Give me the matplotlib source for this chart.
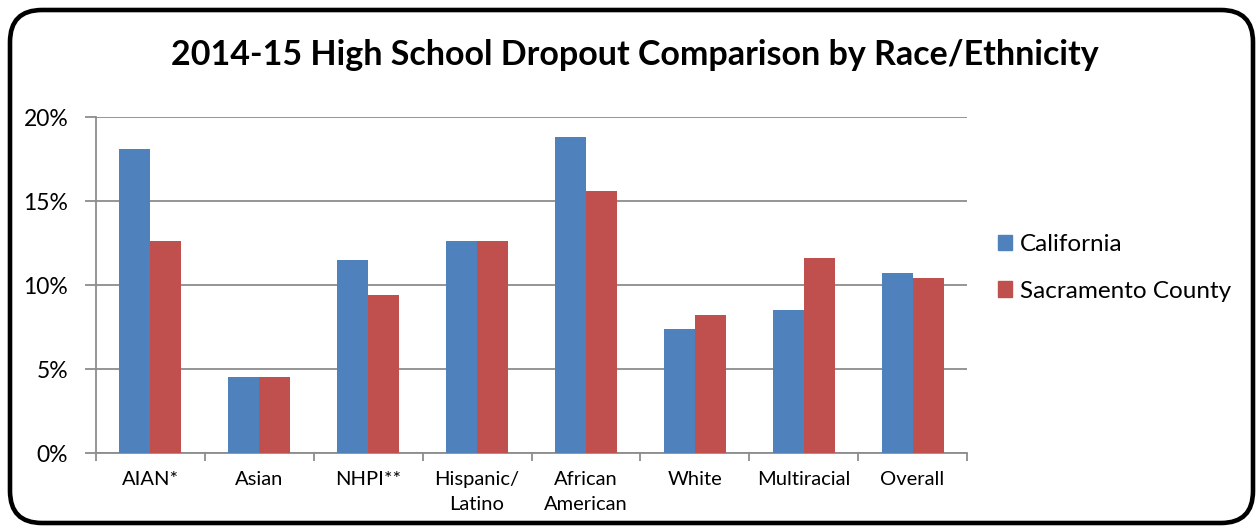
import numpy as np
import matplotlib.pyplot as plt
from matplotlib.patches import FancyBboxPatch, Patch
from matplotlib.ticker import PercentFormatter

# Data (percent)
categories = ['AIAN*', 'Asian', 'NHPI**', 'Hispanic/\nLatino', 'African\nAmerican',
              'White', 'Multiracial', 'Overall']
california = [18.1, 4.5, 11.5, 12.6, 18.8, 7.4, 8.5, 10.7]
sacramento = [12.6, 4.5, 9.4, 12.6, 15.6, 8.2, 11.6, 10.4]

blue = '#4f81bd'
red = '#c0504d'

plt.rcParams['font.family'] = ['Lato', 'DejaVu Sans']

fig = plt.figure(figsize=(12.6, 5.27), dpi=100)
W, H = 1260, 527

# Background axes in pixel units for the rounded chart border
bg = fig.add_axes([0, 0, 1, 1], zorder=-1)
bg.set_xlim(0, W)
bg.set_ylim(H, 0)
bg.axis('off')
bg.add_patch(FancyBboxPatch((10, 10), 1243, 513,
                            boxstyle='round,pad=0,rounding_size=32',
                            facecolor='white', edgecolor='black', linewidth=3.3))

ax = fig.add_axes([96 / W, (H - 453) / H, (967 - 96) / W, (453 - 117) / H])
ax.set_facecolor('none')

x = np.arange(len(categories))
bw = 0.285
ax.bar(x - bw / 2, california, bw, color=blue, zorder=3)
ax.bar(x + bw / 2, sacramento, bw, color=red, zorder=3)

ax.set_xlim(-0.5, len(categories) - 0.5)
ax.set_ylim(0, 20)
ax.set_yticks([0, 5, 10, 15, 20])
ax.yaxis.set_major_formatter(PercentFormatter(decimals=0))
ax.grid(axis='y', color='#8c8c8c', linewidth=1.3, zorder=0)

# Category labels centred, tick marks between groups
ax.set_xticks(x)
ax.set_xticklabels(categories, fontsize=14.5, linespacing=1.6)
ax.tick_params(axis='x', length=0, pad=13)
ax.set_xticks(np.arange(-0.5, len(categories)), minor=True)
ax.tick_params(axis='x', which='minor', length=6, color='#8c8c8c', width=1.3)
ax.tick_params(axis='y', length=8, color='#8c8c8c', width=1.3, labelsize=16.5, pad=12)

for side in ['top', 'right']:
    ax.spines[side].set_visible(False)
for side in ['left', 'bottom']:
    ax.spines[side].set_color('#8c8c8c')
    ax.spines[side].set_linewidth(1.3)

fig.text(635 / W, 1 - 55 / H, '2014-15 High School Dropout Comparison by Race/Ethnicity',
         ha='center', va='center', fontsize=24.5, fontweight='bold')

handles = [Patch(color=blue), Patch(color=red)]
fig.legend(handles, ['California', 'Sacramento County'], loc='center left',
           bbox_to_anchor=(976 / W, 1 - 268 / H), frameon=False, fontsize=17.5,
           handlelength=0.6, handleheight=0.6, handletextpad=0.3, labelspacing=1.05)

plt.savefig('out.png', dpi=100, facecolor='white')
